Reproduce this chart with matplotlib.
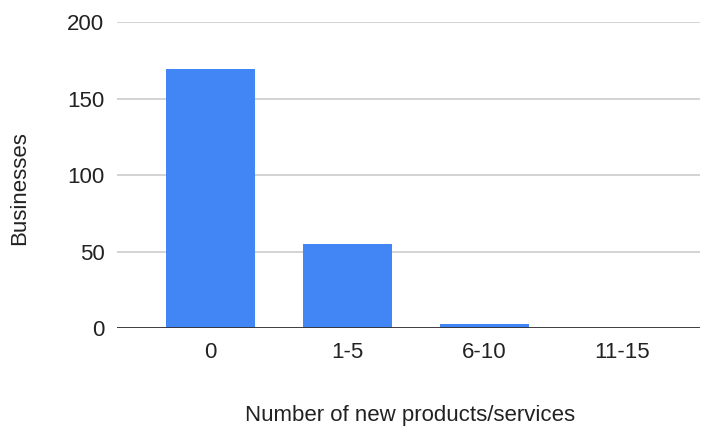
import matplotlib
matplotlib.use("Agg")
import matplotlib.pyplot as plt

plt.rcParams['font.family'] = ['Liberation Sans', 'DejaVu Sans']

categories = ["0", "1-5", "6-10", "11-15"]
businesses = [169, 55, 3, 0]
y_ticks = [0, 50, 100, 150, 200]

fig = plt.figure(figsize=(7.04, 4.29), dpi=100)
ax = fig.add_axes([117/704, (429-328.3)/429, (700-117)/704, (328.3-22)/429])

x = list(range(len(categories)))
ax.bar(x, businesses, width=0.65, color="#4285F4", zorder=3)

ax.set_ylim(0, 200)
ax.set_xlim(-0.68, 3.57)
ax.set_yticks(y_ticks)
ax.set_yticklabels([str(t) for t in y_ticks], fontsize=16, color="#222222")
ax.set_xticks(x)
ax.set_xticklabels(categories, fontsize=16, color="#222222")
ax.tick_params(axis='both', length=0)
ax.tick_params(axis='y', pad=9)
ax.tick_params(axis='x', pad=10)

ax.grid(axis='y', color="#cccccc", linewidth=1.2, zorder=0)
ax.axhline(0, color="#333333", linewidth=1.3, zorder=4)
for s in ax.spines.values():
    s.set_visible(False)

ax.set_ylabel("Businesses", fontsize=16, color="#222222", va="center")
ax.yaxis.set_label_coords((20-117)/583, (328.3-188)/306.3)
ax.set_xlabel("Number of new products/services", fontsize=16, color="#222222", va="center")
ax.xaxis.set_label_coords((410-117)/583, (328.3-416)/306.3)

fig.savefig("out.png", dpi=100)
